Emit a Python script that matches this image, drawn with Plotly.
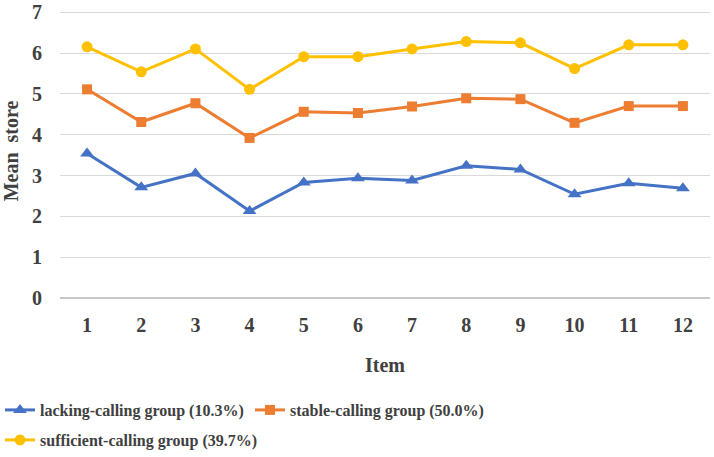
import plotly.graph_objects as go

items = [str(i) for i in range(1, 13)]
lacking = [3.54, 2.71, 3.05, 2.13, 2.83, 2.93, 2.88, 3.24, 3.15, 2.54, 2.81, 2.69]
stable = [5.11, 4.31, 4.77, 3.92, 4.56, 4.53, 4.69, 4.89, 4.87, 4.29, 4.70, 4.70]
sufficient = [6.15, 5.54, 6.10, 5.11, 5.91, 5.91, 6.10, 6.28, 6.25, 5.62, 6.20, 6.20]
names = ["lacking-calling group (10.3%)", "stable-calling group (50.0%)",
         "sufficient-calling group (39.7%)"]
yticks = [0, 1, 2, 3, 4, 5, 6, 7]

FONT = "Liberation Serif"
TXT = "#404040"

fig = go.Figure()
specs = [(lacking, "#4472C4", "triangle-up", 12, "legend"),
         (stable, "#ED7D31", "square", 10, "legend3"),
         (sufficient, "#FFC000", "circle", 11, "legend2")]
for (vals, col, sym, sz, lg), nm in zip(specs, names):
    fig.add_trace(go.Scatter(x=items, y=vals, name=nm, mode="lines+markers",
                             line=dict(color=col, width=3), legend=lg,
                             marker=dict(symbol=sym, size=sz, color=col)))

legfont = dict(family=FONT, size=16, color=TXT, weight="bold")
def leg(xpx, ypx):
    return dict(orientation="h", xref="container", x=xpx / 714, xanchor="left",
                yref="container", y=1 - ypx / 457, yanchor="middle",
                font=legfont, itemwidth=30, bgcolor="rgba(0,0,0,0)")

fig.update_layout(
    width=714, height=457,
    margin=dict(l=60, r=4, t=1, b=159),
    plot_bgcolor="white", paper_bgcolor="white",
    font=dict(family=FONT, color=TXT, size=17),
    showlegend=True,
    legend=leg(-6, 410),
    legend3=leg(250, 410),
    legend2=leg(-6, 440),
)
fig.update_xaxes(type="category", range=[-0.5, 11.5], showgrid=False,
                 ticks="outside", ticklen=9, tickcolor="rgba(0,0,0,0)",
                 tickfont=dict(family=FONT, size=20, color=TXT, weight="bold"),
                 title=dict(text="Item", standoff=22,
                            font=dict(family=FONT, size=20, color=TXT, weight="bold")),
                 showline=False, zeroline=False)
fig.update_yaxes(range=[0, 7.2], tickmode="array", tickvals=yticks,
                 ticktext=[str(v) for v in yticks], ticklabeloverflow="allow",
                 showgrid=True, gridcolor="#d9d9d9", gridwidth=1,
                 zeroline=True, zerolinecolor="#c8c8c8", zerolinewidth=2,
                 ticks="outside", ticklen=13, tickcolor="rgba(0,0,0,0)",
                 tickfont=dict(family=FONT, size=20, color=TXT, weight="bold"),
                 title=dict(text="Mean  store", standoff=10,
                            font=dict(family=FONT, size=20, color=TXT, weight="bold")))

fig.write_html("out.html", config={"displayModeBar": False})
